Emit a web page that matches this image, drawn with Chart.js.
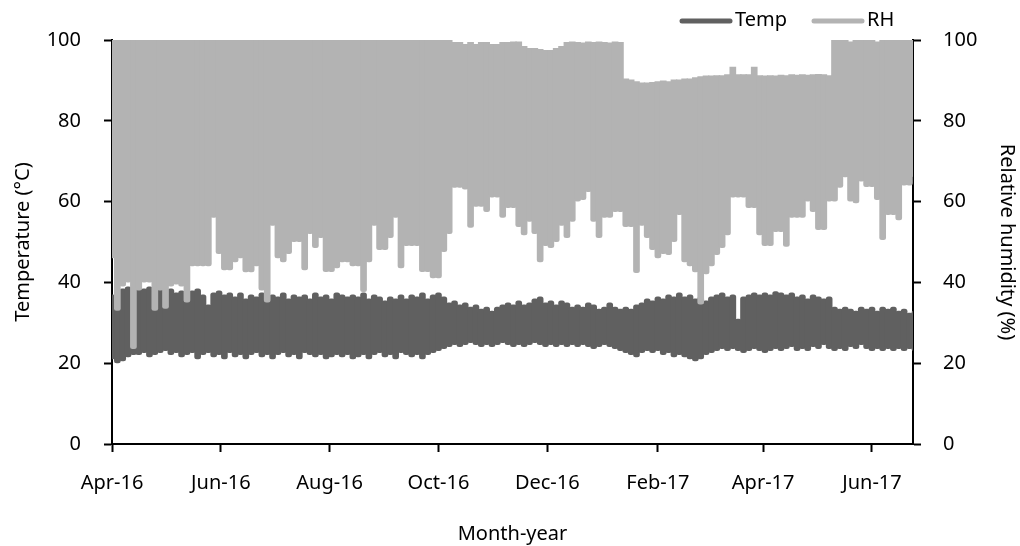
<!DOCTYPE html>
<html>
<head>
<meta charset="utf-8">
<script src="https://cdn.jsdelivr.net/npm/chart.js@4.4.0/dist/chart.umd.min.js"></script>
<style>
  html, body { margin: 0; padding: 0; background: #fff; }
  #wrap { width: 1020px; height: 546px; }
</style>
</head>
<body>
<div id="wrap"><canvas id="chart" width="1020" height="546"></canvas></div>
<script>
// day offsets from 1 Apr 2016, one reading every 3 days (daily min / max)
var days = [0,3,6,9,12,15,18,21,24,27,30,33,36,39,42,45,48,51,54,57,60,63,66,69,72,75,78,81,84,87,
  90,93,96,99,102,105,108,111,114,117,120,123,126,129,132,135,138,141,144,147,150,153,156,159,162,165,168,171,174,177,
  180,183,186,189,192,195,198,201,204,207,210,213,216,219,222,225,228,231,234,237,240,243,246,249,252,255,258,261,264,267,
  270,273,276,279,282,285,288,291,294,297,300,303,306,309,312,315,318,321,324,327,330,333,336,339,342,345,348,351,354,357,
  360,363,366,369,372,375,378,381,384,387,390,393,396,399,402,405,408,411,414,417,420,423,426,429,432,435,438,441,444,447,450];

var monthTicks = [0, 61, 122, 183, 244, 306, 365, 426];
var monthLabels = ["Apr-16", "Jun-16", "Aug-16", "Oct-16", "Dec-16", "Feb-17", "Apr-17", "Jun-17"];

var tempHigh = [37,38,38.5,39,38.5,
  39,38.5,39,38,38.5,38,38.5,37.5,
  38,37.5,38,38.5,37,34.5,
  37.5,38,37,37.5,36.5,37.5,36,37,36.5,37.5,36,37,
  36.5,37.5,36,37,36.5,37,36,37.5,36.5,37,36,37.5,37,36.5,37,
  36.5,37.5,36,37,36.5,35.5,36.5,36,37,36,37,36.5,37.5,36,37,37.5,36.5,
  35,35.5,34.5,35,34,34.5,33.5,34,33,34,
  34.5,35,34.5,35.5,34.5,35,36,36.5,35,35.5,34.5,35.5,35,34,
  34.5,34,35,34.5,33.5,34,35,34,33.5,34,33.5,34.5,35,
  36,35.5,36.5,36,37,36.5,37.5,36.5,37,36,36.5,35.5,36.5,
  37,37.5,36.5,37,31,
  36.5,37,37.5,37,37.5,37,37.8,37.5,37,37.5,36.5,37,36,37,36.5,36,36.5,
  34,33.5,34,33.5,33,34,33.5,34,33,34,33.5,34,33,33.5,32.5,33];

var tempLow = [21,20,20.5,21.5,22,
  22,22.5,21.5,22,22.5,23,22,22.5,21.5,22,22.5,21,22,22.5,
  21.5,22,21,22.5,21.5,22,21,22,22.5,21.5,22,21,22,22.5,21.5,22,21,22.5,22,21.5,22,21,21.5,22,21.5,22,21,
  21.5,22,21,22,22.5,21.5,22,21,22.5,22,21.5,22,21,22,22.5,23,23.5,
  24,24.5,24,24.5,25,24.5,24,24.5,24,24.5,25,24.5,24,24.5,24,24.5,25,24.5,24,24.5,24,24.5,24,
  24.5,24,24.5,24,23.5,24,24.5,24,23.5,23,22.5,
  22,21.5,22.5,23,22.5,23,22,22.5,21.5,22,21.5,21,20.5,21,22,22.5,
  23,23.5,23,23.5,23,22.5,23,23.5,23,22.5,23,23.5,23,23.5,24,23,23.5,23,24,23.5,
  24.5,23.5,23,23.5,23,24,23.5,24.5,23.5,23,23.5,23,23.5,23,23.5,23,23.5,23];

var rhHigh = [100,100,100,100,100,100,100,100,100,100,100,100,100,100,100,100,
  100,100,100,100,100,100,100,100,100,100,100,100,100,100,100,100,
  100,100,100,100,100,100,100,100,100,100,100,100,100,100,100,100,
  100,100,100,100,100,100,100,100,100,100,100,100,100,100,100,100,
  99.5,99.5,99,99.5,99,99.5,99.5,99,99,99.5,99.5,99.6,
  99.6,98.5,98,98,97.8,97.5,97.5,98,98.5,
  99.5,99.6,99.5,99.4,99.6,99.5,99.6,99.5,99.4,99.6,99.5,
  90.5,90.2,89.8,89.5,89.5,89.6,89.8,90,89.8,90.2,90.2,90.5,90.5,90.8,91,91.2,91.2,
  91.3,91.3,91.5,93.4,91.5,91.5,91.5,93.4,91.3,91.2,91.3,91.2,91.4,91.3,91.5,91.4,91.5,91.4,91.5,91.6,91.5,91.3,
  100,100,100,99.6,100,100,100,100,99.6,100,100,100,100,100,100,100];

var rhLow = [46,33,39,40,23.5,38,40,40,33,38,
  33.5,39,39.5,39,35,44,44,44,44,56,
  47,43,43,45,46,42.5,42.5,44,38,35,
  54,46,45,47,50,50,43,52,48.5,51,
  42.6,42.6,43.5,45,45,44,44,37.6,45,54,
  48,48,51,56,43.5,49,49,49,42.6,42.6,
  41,41,47.5,52,63.4,63.4,63,53.5,58.7,58.7,
  57.4,61,61,56,58.4,58.4,53.7,51.7,55,52,
  45,49,48.5,50,54,51,55,60,60.4,62.4,
  55,51,56,56,57.4,57.4,53.7,53.7,42.3,54,
  51,48,46,47,46.8,50,56.7,45,44,42.5,
  34.5,42,44,46.8,48.5,51.7,61,61,61,58.4,
  58.4,51.7,49,49,52.5,52.5,48.8,56,56,56,
  60,57.4,53,53,60,60,63.4,66,60,59.6,
  65,63.6,63.6,60.4,50.5,56.7,56.7,55.4,64,64,66];

var tempColor = '#606060';
var rhColor = '#b3b3b3';

function band(low, high) {
  return days.map(function(d, i) {
    return { x: d, y: [low[i], high[i]] };
  });
}

Chart.defaults.font.family = '"Noto Sans", sans-serif';
Chart.defaults.font.size = 20;
Chart.defaults.color = '#000';

// legend drawn as thick line samples above the plot, like the original
var lineLegend = {
  id: 'lineLegend',
  afterDraw: function(chart) {
    var ctx = chart.ctx;
    var items = [
      { text: 'Temp', color: tempColor, x: 682 },
      { text: 'RH', color: rhColor, x: 814 }
    ];
    ctx.save();
    ctx.lineWidth = 5;
    ctx.lineCap = 'round';
    ctx.font = '20px "Noto Sans", sans-serif';
    ctx.textBaseline = 'middle';
    ctx.fillStyle = '#000';
    items.forEach(function(it) {
      ctx.strokeStyle = it.color;
      ctx.beginPath();
      ctx.moveTo(it.x, 21);
      ctx.lineTo(it.x + 48, 21);
      ctx.stroke();
      ctx.fillText(it.text, it.x + 53, 20);
    });
    ctx.restore();
  }
};

var ctx = document.getElementById('chart');
var myChart = new Chart(ctx, {
  type: 'bar',
  data: {
    datasets: [{
      label: 'Temp',
      data: band(tempLow, tempHigh),
      yAxisID: 'y',
      backgroundColor: tempColor,
      borderRadius: 2.5,
      order: 1
    }, {
      label: 'RH',
      data: band(rhLow, rhHigh),
      yAxisID: 'y1',
      backgroundColor: rhColor,
      // only the low (humid-dip) end is rounded, the top stays flat at 100 %
      borderRadius: { topLeft: 0, topRight: 0, bottomLeft: 2.5, bottomRight: 2.5 },
      order: 0
    }]
  },
  options: {
    responsive: false,
    animation: false,
    events: [],
    layout: { padding: { top: 40, left: 0, right: 0, bottom: 0 } },
    datasets: {
      bar: {
        grouped: false,
        barPercentage: 1.25,
        categoryPercentage: 1,
        borderWidth: 0,
        borderSkipped: false
      }
    },
    plugins: {
      legend: { display: false },
      tooltip: { enabled: false }
    },
    scales: {
      x: {
        type: 'linear',
        offset: false,
        min: 0,
        max: 449,
        afterBuildTicks: function(scale) {
          scale.ticks = monthTicks.map(function(v) { return { value: v }; });
        },
        afterFit: function(scale) { scale.height = 102; },
        ticks: {
          autoSkip: false,
          maxRotation: 0,
          padding: 19,
          callback: function(v) { return monthLabels[monthTicks.indexOf(v)]; }
        },
        grid: { offset: false, drawOnChartArea: false, drawTicks: true, tickLength: 8, tickColor: '#000', tickWidth: 2 },
        border: { display: true, color: '#000', width: 2 },
        title: { display: true, text: 'Month-year', padding: { top: 0, bottom: 0 } }
      },
      y: {
        position: 'left',
        min: 0,
        max: 100,
        afterFit: function(scale) { scale.width = 112; },
        ticks: { stepSize: 20, padding: 23 },
        grid: { drawOnChartArea: false, drawTicks: true, tickLength: 8, tickColor: '#000', tickWidth: 2 },
        border: { display: true, color: '#000', width: 2 },
        title: { display: true, text: 'Temperature (°C)', padding: { top: 11, bottom: 0 } }
      },
      y1: {
        position: 'right',
        min: 0,
        max: 100,
        afterFit: function(scale) { scale.width = 107; },
        ticks: { stepSize: 20, padding: 22 },
        grid: { drawOnChartArea: false, drawTicks: true, tickLength: 8, tickColor: '#000', tickWidth: 2 },
        border: { display: true, color: '#000', width: 2 },
        title: { display: true, text: 'Relative humidity (%)', padding: { top: 1, bottom: 0 } }
      }
    }
  },
  plugins: [lineLegend]
});
</script>
</body>
</html>
